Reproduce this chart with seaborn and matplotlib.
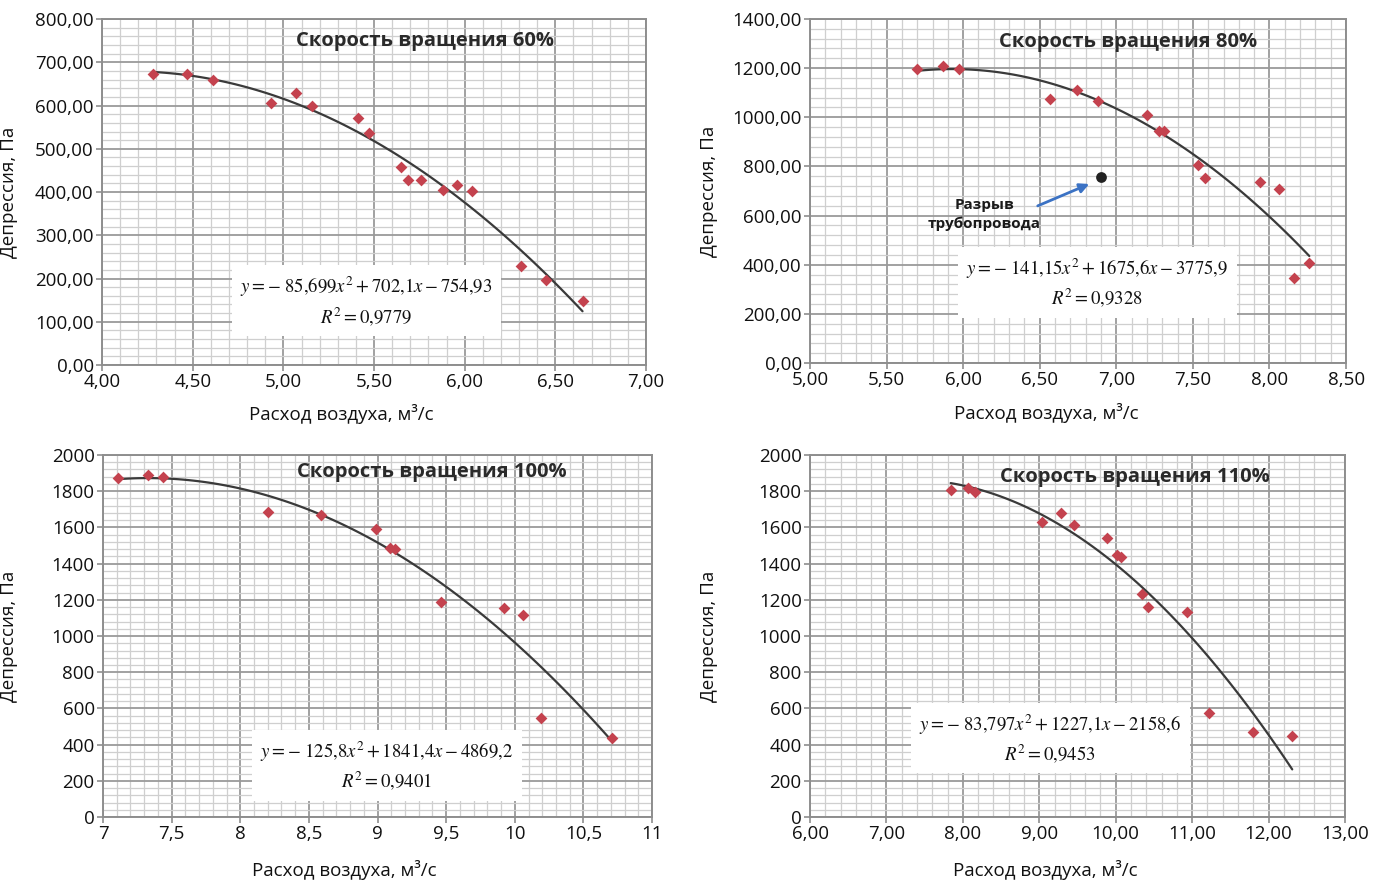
import matplotlib

matplotlib.use("Agg")
import matplotlib.pyplot as plt
import numpy as np
import pandas as pd
import seaborn as sns
from matplotlib.ticker import FuncFormatter, MultipleLocator

# --- data -----------------------------------------------------------------
flow_60 = [4.28, 4.47, 4.61, 4.93, 5.07, 5.16, 5.41, 5.47, 5.65, 5.69, 5.76, 5.88, 5.96, 6.04, 6.31, 6.45, 6.65]
dep_60 = [672, 672, 659, 606, 629, 600, 571, 536, 458, 428, 428, 405, 416, 402, 229, 197, 148]

flow_80 = [5.70, 5.87, 5.97, 6.57, 6.74, 6.88, 7.20, 7.28, 7.31, 7.53, 7.58, 7.94, 8.06, 8.16, 8.26]
dep_80 = [1198, 1207, 1198, 1075, 1113, 1065, 1010, 945, 943, 805, 752, 735, 710, 345, 405]
break_flow = [6.90]
break_dep = [755]

flow_100 = [7.11, 7.33, 7.44, 8.20, 8.59, 8.99, 9.09, 9.13, 9.46, 9.92, 10.06, 10.19, 10.71]
dep_100 = [1875, 1890, 1876, 1685, 1668, 1592, 1487, 1478, 1190, 1153, 1116, 546, 437]

flow_110 = [7.84, 8.07, 8.16, 9.04, 9.29, 9.46, 9.88, 10.02, 10.07, 10.34, 10.42, 10.93, 11.22, 11.80, 12.31]
dep_110 = [1808, 1815, 1797, 1628, 1682, 1613, 1540, 1445, 1435, 1232, 1160, 1130, 572, 470, 445]

titles = ["Скорость вращения 60%", "Скорость вращения 80%", "Скорость вращения 100%", "Скорость вращения 110%"]
equations = [
    r"$y = -\ 85{,}699x^{2} + 702{,}1x - 754{,}93$" + "\n" + r"$R^{2} = 0{,}9779$",
    r"$y = -\ 141{,}15x^{2} + 1675{,}6x - 3775{,}9$" + "\n" + r"$R^{2} = 0{,}9328$",
    r"$y = -\ 125{,}8x^{2} + 1841{,}4x - 4869{,}2$" + "\n" + r"$R^{2} = 0{,}9401$",
    r"$y = -\ 83{,}797x^{2} + 1227{,}1x - 2158{,}6$" + "\n" + r"$R^{2} = 0{,}9453$",
]

COLOR_POINT = "#C4424E"
COLOR_LINE = "#3A3A3A"
COLOR_ARROW = "#3B72C4"
X_LABEL = "Расход воздуха, м³/с"
Y_LABEL = "Депрессия, Па"


def comma_fmt(decimals):
    def _fmt(value, _pos):
        if decimals == "auto":
            text = f"{value:g}"
        else:
            text = f"{value:.{decimals}f}"
        return text.replace(".", ",")

    return FuncFormatter(_fmt)


sns.set_theme(style="white")
plt.rcParams.update(
    {
        "font.family": ["Open Sans", "DejaVu Sans"],
        "mathtext.fontset": "stix",
        "axes.edgecolor": "#8E8E8E",
        "axes.linewidth": 1.4,
        "xtick.color": "#8E8E8E",
        "ytick.color": "#8E8E8E",
        "xtick.labelcolor": "#111111",
        "ytick.labelcolor": "#111111",
        "axes.labelcolor": "#111111",
    }
)

fig = plt.figure(figsize=(13.83, 8.83), dpi=100)
positions = [
    [0.0738, 0.5866, 0.3933, 0.3918],
    [0.5857, 0.5889, 0.3876, 0.3896],
    [0.0745, 0.0747, 0.3970, 0.4100],
    [0.5857, 0.0747, 0.3868, 0.4100],
]

panels = [
    dict(x=flow_60, y=dep_60, xlim=(4, 7), ylim=(0, 800), xmaj=0.5, xmin=0.1, ymaj=100, ymin=20,
         xfmt=2, yfmt=2, title_xy=(0.594, 0.937), eq_xy=(0.486, 0.184), ylab_x=-0.154, xlab_y=-0.113),
    dict(x=flow_80, y=dep_80, xlim=(5, 8.5), ylim=(0, 1400), xmaj=0.5, xmin=0.1, ymaj=200, ymin=40,
         xfmt=2, yfmt=2, title_xy=(0.593, 0.933), eq_xy=(0.536, 0.233), ylab_x=-0.172, xlab_y=-0.116),
    dict(x=flow_100, y=dep_100, xlim=(7, 11), ylim=(0, 2000), xmaj=0.5, xmin=0.1, ymaj=200, ymin=40,
         xfmt="auto", yfmt=0, title_xy=(0.599, 0.953), eq_xy=(0.517, 0.141), ylab_x=-0.155, xlab_y=-0.119),
    dict(x=flow_110, y=dep_110, xlim=(6, 13), ylim=(0, 2000), xmaj=1.0, xmin=0.2, ymaj=200, ymin=40,
         xfmt=2, yfmt=0, title_xy=(0.607, 0.939), eq_xy=(0.449, 0.217), ylab_x=-0.172, xlab_y=-0.119),
]

for idx, (pos, p) in enumerate(zip(positions, panels)):
    ax = fig.add_axes(pos)
    data = pd.DataFrame({"flow": p["x"], "dep": p["y"]})

    ax.set_xlim(*p["xlim"])
    ax.set_ylim(*p["ylim"])
    ax.xaxis.set_major_locator(MultipleLocator(p["xmaj"]))
    ax.xaxis.set_minor_locator(MultipleLocator(p["xmin"]))
    ax.yaxis.set_major_locator(MultipleLocator(p["ymaj"]))
    ax.yaxis.set_minor_locator(MultipleLocator(p["ymin"]))
    ax.xaxis.set_major_formatter(comma_fmt(p["xfmt"]))
    ax.yaxis.set_major_formatter(comma_fmt(p["yfmt"]))
    ax.grid(which="major", color="#9A9A9A", linewidth=1.3)
    ax.grid(which="minor", color="#CFCFCF", linewidth=0.9)
    ax.set_axisbelow(True)
    ax.tick_params(which="major", length=4, width=1.2, labelsize=13.5, pad=2)
    ax.tick_params(which="minor", length=0)
    ax.tick_params(axis="x", bottom=True)
    ax.tick_params(axis="y", left=True)

    sns.regplot(data=data, x="flow", y="dep", order=2, ci=None, scatter=False, ax=ax,
                line_kws={"color": COLOR_LINE, "linewidth": 1.6, "zorder": 2})
    sns.scatterplot(data=data, x="flow", y="dep", marker="D", s=36, color=COLOR_POINT,
                    edgecolor=COLOR_POINT, linewidth=0, ax=ax, zorder=3)

    if idx == 1:
        sns.scatterplot(x=break_flow, y=break_dep, marker="o", s=60, color="#222222",
                        linewidth=0, ax=ax, zorder=3)
        ax.annotate("", xy=(6.84, 733), xytext=(6.47, 635),
                    arrowprops=dict(arrowstyle="-|>", color=COLOR_ARROW, lw=2, mutation_scale=14))
        ax.text(6.14, 605, "Разрыв\nтрубопровода", ha="center", va="center", fontsize=11,
                fontweight="bold", color="#1A1A1A", linespacing=1.4)

    ax.text(p["title_xy"][0], p["title_xy"][1], titles[idx], transform=ax.transAxes,
            ha="center", va="center", fontsize=14.5, fontweight="bold", color="#2A2A2A")
    ax.text(p["eq_xy"][0], p["eq_xy"][1], equations[idx], transform=ax.transAxes,
            ha="center", va="center", fontsize=13.5, color="#111111", multialignment="center",
            linespacing=1.3, zorder=4,
            bbox=dict(boxstyle="square,pad=0.45", facecolor="white", edgecolor="none"))

    ax.set_xlabel(X_LABEL, fontsize=13.5)
    ax.set_ylabel(Y_LABEL, fontsize=13.5)
    ax.xaxis.set_label_coords(0.44, p["xlab_y"])
    ax.yaxis.set_label_coords(p["ylab_x"], 0.5)
    for spine in ax.spines.values():
        spine.set_visible(True)

fig.savefig("out.png", dpi=100)
plt.close(fig)
